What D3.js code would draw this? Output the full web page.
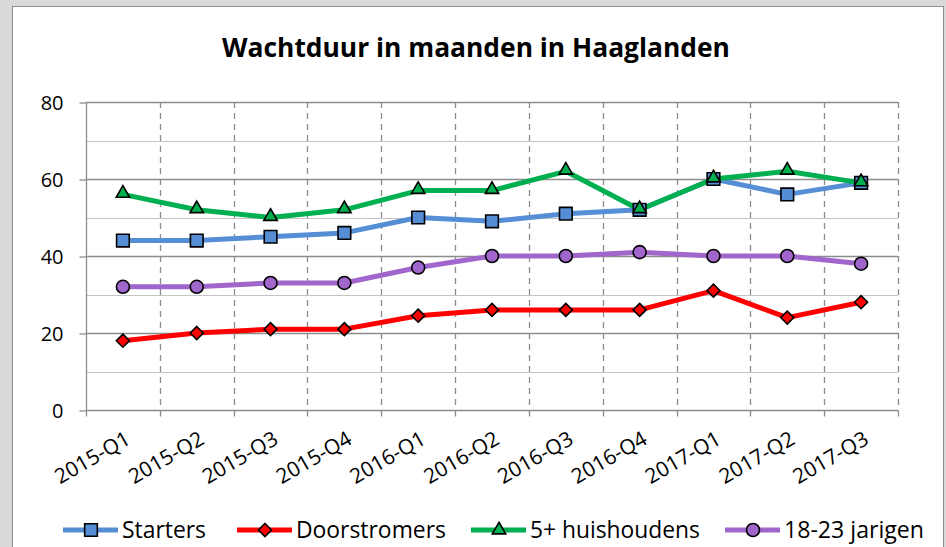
<!DOCTYPE html>
<html>
<head>
<meta charset="utf-8">
<script src="https://cdn.jsdelivr.net/npm/d3@7"></script>
<style>
  body { margin: 0; background: #d9d9d9; overflow: hidden; }
  svg { display: block; }
  text { font-family: "Open Sans", Lato, sans-serif; fill: #000; }
</style>
</head>
<body>
<svg id="chart" width="946" height="547"></svg>
<script>
const categories = ["2015-Q1", "2015-Q2", "2015-Q3", "2015-Q4", "2016-Q1", "2016-Q2",
                    "2016-Q3", "2016-Q4", "2017-Q1", "2017-Q2", "2017-Q3"];
const starters = [44, 44, 45, 46, 50, 49, 51, 52, 60, 56, 59];
const doorstromers = [18, 20, 21, 21, 24.5, 26, 26, 26, 31, 24, 28];
const huishoudens5 = [56, 52, 50, 52, 57, 57, 62, 52, 60, 62, 59];
const jarigen = [32, 32, 33, 33, 37, 40, 40, 41, 40, 40, 38];
const majorTicks = [0, 20, 40, 60, 80];
const minorTicks = [10, 30, 50, 70];

// rotated square for the Doorstromers marker
const symbolRhomb = {
    draw(ctx, size) {
        const r = Math.sqrt(size / 2);
        ctx.moveTo(0, -r); ctx.lineTo(r, 0); ctx.lineTo(0, r); ctx.lineTo(-r, 0); ctx.closePath();
    }
};

const series = [
    {name: "Starters", values: starters, color: "#558ed5", symbol: d3.symbolSquare, size: 160, textW: 84},
    {name: "Doorstromers", values: doorstromers, color: "#ff0000", symbol: symbolRhomb, size: 85, textW: 150},
    {name: "5+ huishoudens", values: huishoudens5, color: "#00b050", symbol: d3.symbolTriangle, size: 78, textW: 170},
    {name: "18-23 jarigen", values: jarigen, color: "#a066cc", symbol: d3.symbolCircle, size: 133, textW: 140},
];

const svg = d3.select("#chart");

// shrink or grow a text so it is as wide as in the picture
function fitWidth(node, target) {
    const el = d3.select(node);
    const fs = parseFloat(el.attr("font-size"));
    const w = node.getComputedTextLength();
    el.attr("font-size", (fs * target / w).toFixed(2));
}

// chart frame
svg.append("rect")
    .attr("x", 12.5).attr("y", 6.5)
    .attr("width", 931).attr("height", 560)
    .attr("fill", "#fff")
    .attr("stroke", "#8c8c8c");

const title = svg.append("text")
    .attr("x", 476).attr("y", 57)
    .attr("text-anchor", "middle")
    .attr("font-size", 25)
    .attr("font-weight", "bold")
    .text("Wachtduur in maanden in Haaglanden");
fitWidth(title.node(), 508);

const x = d3.scaleBand().domain(categories).range([86, 898]).paddingInner(0).paddingOuter(0);
const y = d3.scaleLinear().domain([0, 80]).range([410, 102]);
const cx = d => x(d) + x.bandwidth() / 2;

//gridlines
svg.append("g").selectAll("line.minor")
    .data(minorTicks).enter().append("line")
    .attr("x1", 86).attr("x2", 898)
    .attr("y1", d => Math.round(y(d)) + 0.5).attr("y2", d => Math.round(y(d)) + 0.5)
    .attr("stroke", "#c4c4c4").attr("stroke-width", 1.2);

svg.append("g").selectAll("line.vert")
    .data(categories.slice(1).concat(["end"])).enter().append("line")
    .attr("x1", d => Math.round(d === "end" ? 898 : x(d)) + 0.5)
    .attr("x2", d => Math.round(d === "end" ? 898 : x(d)) + 0.5)
    .attr("y1", 102).attr("y2", 410)
    .attr("stroke", "#8c8c8c").attr("stroke-width", 1.3)
    .style("stroke-dasharray", "6,5");

svg.append("g").selectAll("line.major")
    .data(majorTicks.slice(1)).enter().append("line")
    .attr("x1", 86).attr("x2", 898)
    .attr("y1", d => Math.round(y(d)) + 0.5).attr("y2", d => Math.round(y(d)) + 0.5)
    .attr("stroke", "#8c8c8c").attr("stroke-width", 1.3);

// axes
const yAxis = svg.append("g")
    .attr("transform", "translate(86.5,0.5)")
    .call(d3.axisLeft(y).tickValues(majorTicks).tickSize(7).tickPadding(16));
yAxis.select(".domain").attr("stroke", "#8c8c8c").attr("stroke-width", 1.3).attr("d", "M0,102V410");
yAxis.selectAll(".tick line").attr("stroke", "#8c8c8c").attr("stroke-width", 1.3);
yAxis.selectAll(".tick text").attr("font-size", 20).attr("font-family", null).attr("dy", "0.36em");

const xAxis = svg.append("g").attr("transform", "translate(0.5,410.5)");
xAxis.append("line").attr("x1", 86).attr("x2", 898)
    .attr("stroke", "#8c8c8c").attr("stroke-width", 1.3);
xAxis.selectAll("line.tk")
    .data(categories.concat(["end"])).enter().append("line")
    .attr("x1", d => Math.round(d === "end" ? 898 : x(d)))
    .attr("x2", d => Math.round(d === "end" ? 898 : x(d)))
    .attr("y1", 0).attr("y2", 6)
    .attr("stroke", "#8c8c8c").attr("stroke-width", 1.3);

const xLabels = svg.append("g").selectAll("text")
    .data(categories).enter().append("text")
    .attr("transform", d => `translate(${cx(d) + 9},443) rotate(-30)`)
    .attr("text-anchor", "end")
    .attr("font-size", 18)
    .text(d => d);
const xFs = 18 * 83 / xLabels.node().getComputedTextLength();
xLabels.attr("font-size", xFs.toFixed(2));

// series lines + markers
const line = d3.line().x((v, i) => cx(categories[i])).y(v => y(v));

series.forEach(s => {
    svg.append("path")
        .attr("d", line(s.values))
        .attr("fill", "none")
        .attr("stroke", s.color)
        .attr("stroke-width", 5)
        .attr("stroke-linejoin", "round");
});
series.forEach(s => {
    svg.append("g").selectAll("path")
        .data(s.values).enter().append("path")
        .attr("transform", (v, i) => `translate(${cx(categories[i])},${y(v) + (s.symbol === d3.symbolTriangle ? -1 : 0)})`)
        .attr("d", d3.symbol().type(s.symbol).size(s.size))
        .attr("fill", s.color)
        .attr("stroke", "#000")
        .attr("stroke-width", 1.6);
});

// legend
const legendX = [63, 237, 471, 725];
const legend = svg.append("g").selectAll("g")
    .data(series).enter().append("g")
    .attr("transform", (d, i) => `translate(${legendX[i]},530)`);
legend.append("line")
    .attr("x1", 0).attr("x2", 55)
    .attr("stroke", d => d.color).attr("stroke-width", 5);
legend.append("path")
    .attr("transform", "translate(28,0)")
    .attr("d", d => d3.symbol().type(d.symbol).size(d.size)())
    .attr("fill", d => d.color)
    .attr("stroke", "#000").attr("stroke-width", 1.6);
legend.append("text")
    .attr("x", 59).attr("y", 7.5)
    .attr("font-size", 21)
    .text(d => d.name)
    .each(function(d) { fitWidth(this, d.textW); });
</script>
</body>
</html>
